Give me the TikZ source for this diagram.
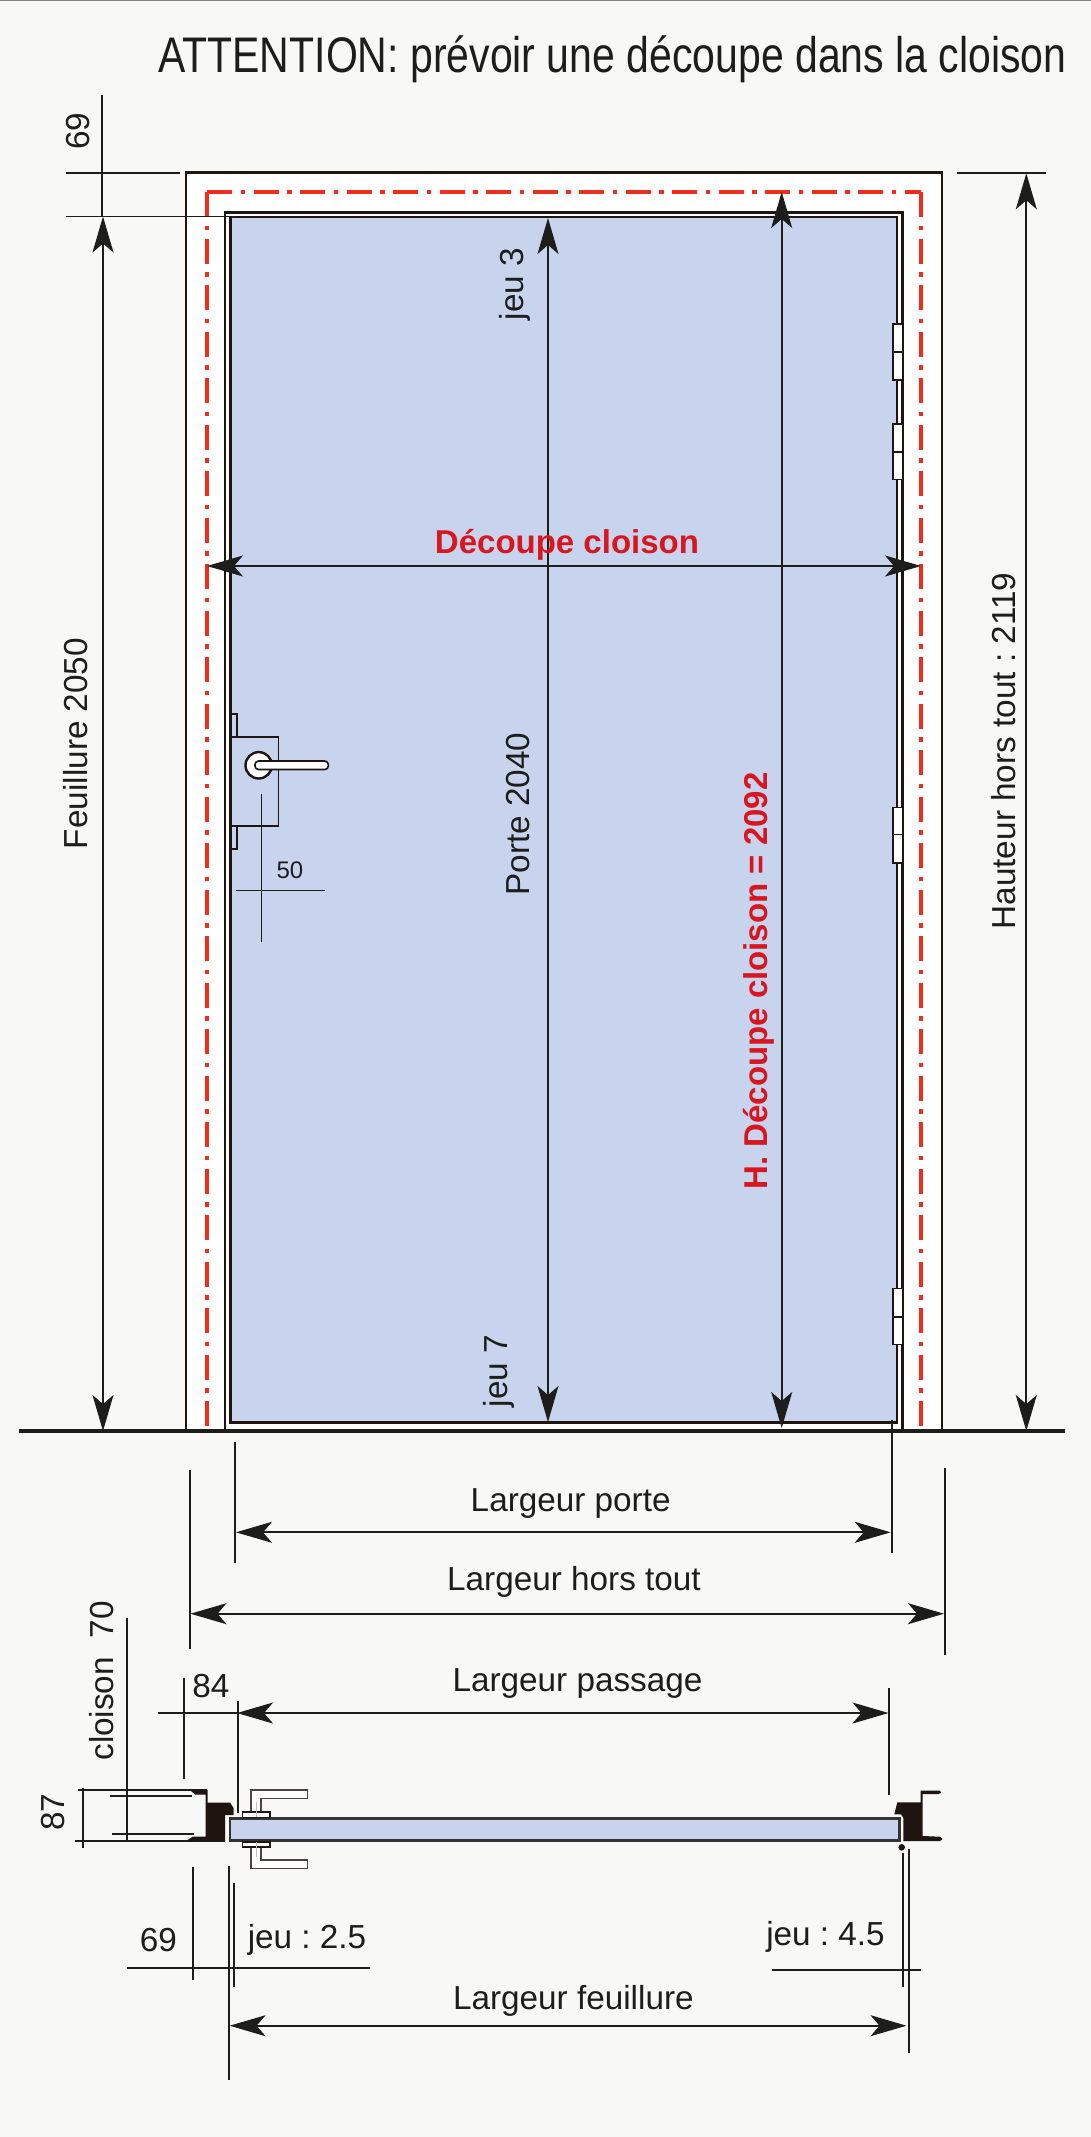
\documentclass[tikz,border=0pt]{standalone}
\usepackage{fontspec}
\setmainfont{Liberation Sans}
\newfontfamily\titlefont[FakeStretch=0.82]{Liberation Sans}
\usetikzlibrary{arrows.meta}
\definecolor{paper}{HTML}{F8F8F6}
\definecolor{ink}{HTML}{1D1D1B}
\definecolor{jamb}{HTML}{1F1410}
\definecolor{panelblue}{HTML}{C8D3ED}
\definecolor{cutred}{HTML}{EE2E1A}
\definecolor{labelred}{HTML}{D8161F}
\frenchspacing

\begin{document}
\begin{tikzpicture}[x=1pt, y=-1pt]
            \tikzstyle{every node} = [text=ink, inner sep=0pt, font=\fontsize{33.3}{36}\selectfont]
            \tikzstyle{rouge} = [text=labelred, font=\fontsize{33}{36}\selectfont\bfseries]
            \tikzstyle{vert} = [rotate=90]
            \tikzstyle{ligne} = [draw=ink, line width=1.8pt]
            \tikzstyle{cote} = [ligne, {Stealth[length=36pt, width=21pt, inset=9pt]}-{Stealth[length=36pt, width=21pt, inset=9pt]}]
            \tikzstyle{cadre} = [draw=jamb, line width=2.2pt]
            \tikzstyle{decoupe} = [draw=cutred, line width=4.5pt, dash pattern=on 25pt off 8.7pt on 4.5pt off 8.3pt]
            \tikzstyle{ferrure} = [draw=jamb, line width=1.6pt, fill=white]
            \tikzstyle{poignee} = [draw=jamb!80, line width=1.5pt, fill=white]

            \fill[paper] (0,0) rectangle (1091,2137);
            \useasboundingbox (0,0) rectangle (1091,2137);
            \draw[gray, line width=1.5pt] (0,0.7) -- (1091,0.7);

            \node[anchor=base west, font=\fontsize{50}{54}\selectfont\titlefont](titre) at (158,72.7){ATTENTION: prévoir une découpe dans la cloison};

            % elevation
            \fill[white] (186,172.5) rectangle (942,1431);
            \draw[decoupe] (207,192) -- (207,1431);
            \draw[decoupe] (207,192) -- (921,192);
            \draw[decoupe] (921,192) -- (921,1431);
            \draw[cadre] (186,1431) -- (186,172.5) -- (942,172.5) -- (942,1431);
            \draw[cadre] (225,1431) -- (225,212.5) -- (902.5,212.5) -- (902.5,1431);
            \draw[cadre, fill=panelblue] (230.5,216.7) rectangle (897.3,1422.5);
            \foreach \ya/\yb/\yc in {323.7/351.7/380, 423.7/451.7/479.3, 807.3/834.3/862.7, 1288.3/1316.7/1344.3}{
                  \draw[ferrure] (893,\ya) rectangle (903,\yc);
                  \draw[ferrure] (893,\yb) -- (903,\yb);
            }
            \draw[ferrure, fill=none] (231,714) -- (236.7,714) -- (236.7,737);
            \draw[ferrure, fill=none] (231,737) -- (278.3,737) -- (278.3,825.7) -- (231,825.7);
            \draw[ferrure, fill=none] (236.7,825.7) -- (236.7,849) -- (231,849);
            \draw[ferrure, line width=2.4pt] (258.7,765.3) circle (13.2);
            \draw[ferrure, rounded corners=3.5pt] (255,761) rectangle (328.3,769.5);
            \draw[ligne, line width=1.4pt] (261.7,794.3) -- (261.7,942.3);
            \draw[ligne, line width=1.4pt] (236,890.7) -- (325,890.7);
            \node[font=\fontsize{24}{26}\selectfont](cinquante) at (290,870.7){50};

            \draw[draw=ink, line width=4pt] (19,1431) -- (1065,1431);

            % cotes verticales
            \draw[ligne] (66,173) -- (180,173);
            \draw[ligne] (66,216.5) -- (236,216.5);
            \draw[ligne] (102,95) -- (102,216.5);
            \node[vert](h69) at (78,131){69};
            \draw[cote] (103,216.5) -- (103,1431);
            \node[vert](feuillure) at (76,743.5){Feuillure 2050};
            \draw[cote] (548,218) -- (548,1422);
            \node[vert](jeutrois) at (515,284){jeu 3};
            \node[vert](porte) at (517.6,814){Porte 2040};
            \node[vert](jeusept) at (499,1371){jeu 7};
            \draw[cote] (781.7,192) -- (781.7,1428);
            \node[vert, rouge](hdecoupe) at (758.5,981){H. Découpe cloison = 2092};
            \draw[ligne] (957,173.3) -- (1045.7,173.3);
            \draw[cote] (1026.3,173.3) -- (1026.3,1431);
            \node[vert](hauteur) at (1004,751){Hauteur hors tout : 2119};
            \draw[cote] (207,566) -- (921,566);
            \node[rouge](decoupe) at (567,545){Découpe cloison};

            % cotes horizontales
            \draw[ligne] (234.6,1442) -- (234.6,1563);
            \draw[ligne] (892,1420) -- (892,1553);
            \draw[cote] (236,1532.3) -- (890.7,1532.3);
            \node(lporte) at (570.7,1503){Largeur porte};
            \draw[ligne] (189.6,1470) -- (189.6,1648.7);
            \draw[ligne] (944.7,1468) -- (944.7,1655);
            \draw[cote] (190.5,1613.7) -- (944,1613.7);
            \node(lhors) at (574,1582){Largeur hors tout};
            \draw[ligne] (237.7,1700.7) -- (237.7,1813);
            \draw[ligne] (888.7,1688) -- (888.7,1795);
            \draw[ligne] (158,1713) -- (237.7,1713);
            \draw[cote] (237,1713) -- (888.5,1713);
            \node(lpassage) at (577.5,1683){Largeur passage};
            \draw[ligne] (184.3,1678) -- (184.3,1779);
            \node(quatre) at (211,1686){84};
            \node[vert](cloison) at (102,1681){cloison\ \ 70};
            \draw[ligne] (126.7,1617.7) -- (126.7,1842.3);

            % coupe
            \draw[ligne] (83,1788) -- (83,1848);
            \draw[ligne] (78,1790.3) -- (207,1790.3);
            \draw[ligne] (75,1840.7) -- (225,1840.7);
            \draw[ligne] (110,1796) -- (191.7,1796);
            \draw[ligne] (112.3,1833.7) -- (194.3,1833.7);
            \node[vert](sept) at (53.3,1812.3){87};
            \fill[jamb] (190,1790) -- (207.5,1790) -- (207.5,1802.5) -- (230,1802.5) -- (233.5,1808) -- (233.5,1815) -- (225,1815) -- (225,1841) -- (186,1841) -- (193,1836.5) -- (205.5,1836.5) -- (205.5,1794.5) -- (195,1794.5) -- cycle;
            \fill[jamb] (894.3,1814.3) -- (897.3,1802.3) -- (920.7,1802.3) -- (920.7,1790.7) -- (940,1790.7) -- (941,1792.7) -- (938.7,1794) -- (922.7,1794) -- (922.7,1836) -- (940,1836.7) -- (942.7,1839) -- (940,1841) -- (903.3,1841) -- (903.3,1817.7) -- (901,1814.3) -- cycle;
            \draw[draw=jamb!85!panelblue, fill=panelblue, line width=2.5pt] (229.8,1818.5) rectangle (899.5,1840.3);
            \draw[poignee] (251,1790) -- (307.7,1790) -- (307.7,1798.7) -- (261,1798.7) -- (261,1811.7) -- (251,1811.7) -- cycle;
            \draw[poignee] (251,1847.3) -- (261,1847.3) -- (261,1860) -- (307.7,1860) -- (307.7,1868.7) -- (251,1868.7) -- cycle;
            \draw[ferrure] (242.3,1811.7) rectangle (270,1817.3);
            \draw[ferrure] (242.3,1841.7) rectangle (270,1847);
            \draw[gray!50, line width=1pt] (256,1801.7) -- (256,1817);
            \draw[gray!50, line width=1pt] (256,1842) -- (256,1856.7);
            \fill[jamb] (901.7,1847.3) circle (3.3);

            % cotes du bas
            \draw[ligne] (192.7,1867.3) -- (192.7,1980);
            \draw[ligne] (229.3,1866.3) -- (229.3,2080);
            \draw[ligne] (234.3,1883.3) -- (234.3,1986.7);
            \draw[ligne] (127,1968) -- (370,1968);
            \node(six) at (158.3,1940){69};
            \node[anchor=base](jeua) at (307,1948.3){jeu : 2.5};
            \draw[ligne] (903,1853) -- (903,1986.7);
            \draw[ligne] (909.3,1849.3) -- (909.3,2052.7);
            \draw[ligne] (771.7,1970.3) -- (921,1970.3);
            \node[anchor=base](jeub) at (825.5,1945){jeu : 4.5};
            \draw[cote] (229.6,2025.7) -- (906.5,2025.7);
            \node(lfeuillure) at (573.4,2000.5){Largeur feuillure};
      \end{tikzpicture}
\end{document}
